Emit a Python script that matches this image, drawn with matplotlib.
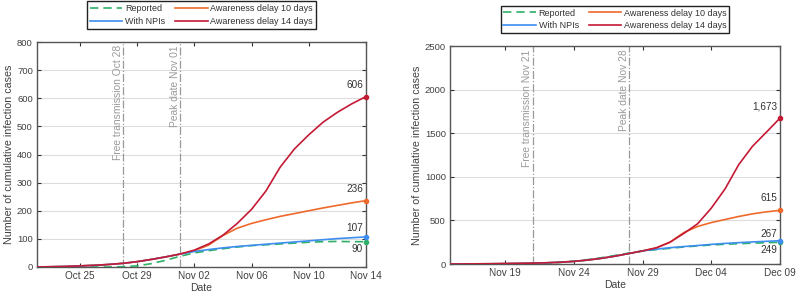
import numpy as np
import pandas as pd
import matplotlib
matplotlib.use('Agg')
import matplotlib.pyplot as plt
import matplotlib.dates as mdates

plt.rcParams['font.family'] = ['Liberation Sans', 'DejaVu Sans']

# ---- left panel: Oct 22 - Nov 14 ----
dates_a = pd.date_range('2020-10-22', '2020-11-14')
reported_a = [0, 0, 0, 0, 0, 0, 1, 4, 12, 24, 38, 50, 58, 65, 71, 76, 79, 82, 85, 88, 90, 91, 90, 90]
npi_a = [0, 1, 2, 4, 6, 9, 13, 19, 27, 36, 46, 55, 62, 68, 73, 77, 81, 85, 89, 93, 97, 101, 104, 107]
delay10_a = [0, 1, 2, 4, 6, 9, 13, 19, 27, 36, 46, 58, 78, 112, 138, 155, 168, 180, 190, 200, 210, 219, 228, 236]
delay14_a = [0, 1, 2, 4, 6, 9, 13, 19, 27, 36, 46, 60, 82, 113, 155, 205, 270, 355, 420, 470, 515, 550, 580, 606]
free_a = '2020-10-28'
peak_a = '2020-11-01'

# ---- right panel: Nov 15 - Dec 09 ----
dates_b = pd.date_range('2020-11-15', '2020-12-09')
reported_b = [0, 0, 0, 0, 0, 0, 2, 8, 18, 32, 50, 72, 98, 125, 148, 165, 180, 195, 207, 218, 226, 233, 239, 244, 249]
npi_b = [0, 1, 2, 3, 5, 7, 10, 14, 20, 30, 45, 65, 90, 120, 150, 170, 187, 200, 212, 225, 236, 245, 253, 260, 267]
delay10_b = [0, 1, 2, 3, 5, 7, 10, 14, 20, 30, 45, 65, 90, 120, 150, 185, 250, 360, 430, 475, 510, 545, 575, 598, 615]
delay14_b = [0, 1, 2, 3, 5, 7, 10, 14, 20, 30, 45, 65, 90, 120, 150, 185, 250, 350, 460, 640, 860, 1140, 1350, 1510, 1673]
free_b = '2020-11-21'
peak_b = '2020-11-28'

c_rep = '#2eb067'
c_npi = '#3d8ef0'
c_d10 = '#ee6a2c'
c_d14 = '#c41a35'
tcol = '#404040'

fig = plt.figure(figsize=(7.99, 2.97), dpi=100)
W, H = 799, 297


def panel(rect, dates, rep, npi, d10, d14, free, peak, ymax, ystep, xticks):
    l, t, r, b = rect
    ax = fig.add_axes([l / W, (H - b) / H, (r - l) / W, (b - t) / H])
    ax.plot(dates, rep, color=c_rep, lw=1.2, ls=(0, (5, 3)), label='Reported', zorder=3)
    ax.plot(dates, npi, color=c_npi, lw=1.2, label='With NPIs', zorder=4)
    ax.plot(dates, d10, color=c_d10, lw=1.2, label='Awareness delay 10 days', zorder=2)
    ax.plot(dates, d14, color=c_d14, lw=1.2, label='Awareness delay 14 days', zorder=5)
    for s, c in [(rep, c_rep), (npi, c_npi), (d10, c_d10), (d14, c_d14)]:
        ax.plot(dates[-1], s[-1], 'o', ms=3, color=c, zorder=6, clip_on=False)
    ax.set_xlim(dates[0], dates[-1])
    ax.set_ylim(0, ymax)
    ax.set_yticks(np.arange(0, ymax + 1, ystep))
    ax.set_xticks(pd.to_datetime(xticks))
    ax.xaxis.set_major_formatter(mdates.DateFormatter('%b %d'))
    ax.grid(axis='y', color='#dddddd', lw=0.8)
    ax.set_axisbelow(True)
    ax.tick_params(direction='in', top=True, right=True, length=3, width=0.8,
                   colors='#333333', labelcolor=tcol, pad=3)
    ax.tick_params(axis='x', labelsize=7.2)
    ax.tick_params(axis='y', labelsize=6.8)
    for sp in ax.spines.values():
        sp.set_color('#555555')
        sp.set_linewidth(1.0)
    for d, txt in [(free, 'Free transmission '), (peak, 'Peak date ')]:
        x = pd.Timestamp(d)
        ax.axvline(x, color='#999999', lw=0.9, ls='-.', zorder=1)
        ax.text(x, ymax * 0.985, txt + x.strftime('%b %d'), rotation=90, ha='right', va='top',
                fontsize=7.4, color='#9a9a9a')
    ax.set_xlabel('Date', fontsize=7.5, color=tcol, labelpad=1)
    ax.set_ylabel('Number of cumulative infection cases', fontsize=7.7, color=tcol, labelpad=2)
    leg = ax.legend(loc='lower center', bbox_to_anchor=(0.5, 1.06), ncol=2, fontsize=6.5,
                    frameon=True, fancybox=False, edgecolor='#222222', framealpha=1,
                    handlelength=3.6, columnspacing=1.1, handletextpad=0.3,
                    labelspacing=0.4, borderpad=0.3, borderaxespad=0)
    for tx in leg.get_texts():
        tx.set_color('#333333')
    return ax


def label_ends(ax, dates, rep, npi, d10, d14, npi_dy):
    x = dates[-1]
    for s, dy, va in [(d14, 5, 'bottom'), (d10, 5, 'bottom'), (npi, npi_dy, 'bottom'), (rep, -2, 'top')]:
        ax.annotate(f'{s[-1]:,}', (x, s[-1]), xytext=(-2, dy), textcoords='offset points',
                    ha='right', va=va, fontsize=7.2, color='#333333')


ax1 = panel((37, 42, 366, 267), dates_a, reported_a, npi_a, delay10_a, delay14_a,
            free_a, peak_a, 800, 100,
            ['2020-10-25', '2020-10-29', '2020-11-02', '2020-11-06', '2020-11-10', '2020-11-14'])
label_ends(ax1, dates_a, reported_a, npi_a, delay10_a, delay14_a, 3)

ax2 = panel((450, 46, 780, 264), dates_b, reported_b, npi_b, delay10_b, delay14_b,
            free_b, peak_b, 2500, 500,
            ['2020-11-19', '2020-11-24', '2020-11-29', '2020-12-04', '2020-12-09'])
label_ends(ax2, dates_b, reported_b, npi_b, delay10_b, delay14_b, 1)

fig.savefig('out.png', dpi=100)
